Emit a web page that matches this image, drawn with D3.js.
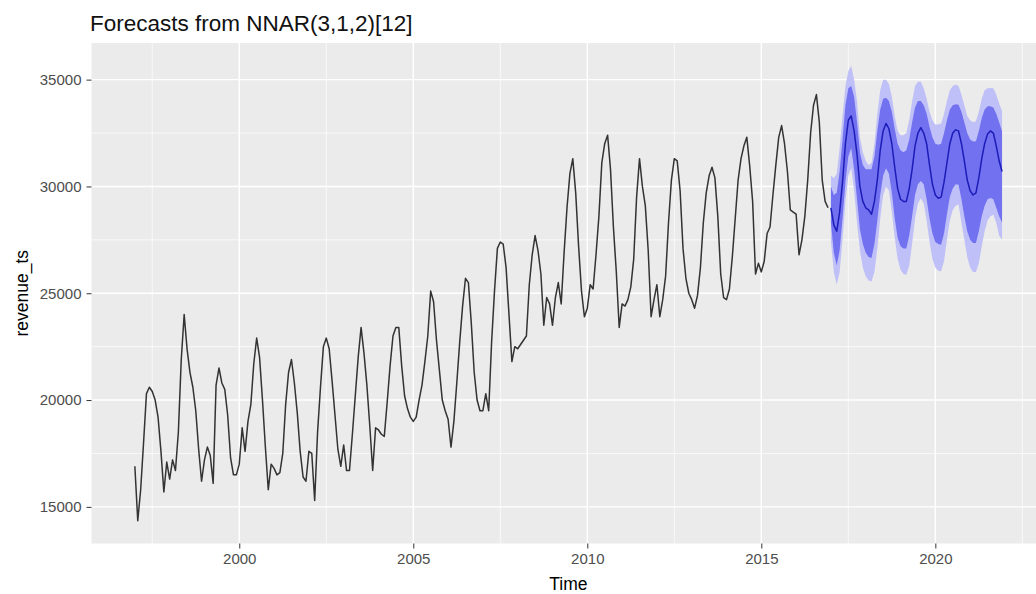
<!DOCTYPE html>
<html>
<head>
<meta charset="utf-8">
<script src="https://cdn.jsdelivr.net/npm/d3@7"></script>
<style>
  body { margin: 0; background: #fff; }
  text { font-family: "Liberation Sans", Arial, sans-serif; }
</style>
</head>
<body>
<div id="chart"></div>
<script>
  /* Monthly series, Jan 1997 - Dec 2016 */
  var startYear = 1997;
  var revenue = [
    16900, 14350, 15800, 18000, 20300, 20600, 20400, 20000, 19200, 17600, 15700, 17100,
    16300, 17200, 16700, 18500, 21900, 24000, 22400, 21300, 20600, 19500, 17700, 16200,
    17200, 17800, 17400, 16100, 20700, 21500, 20800, 20500, 19300, 17300, 16500, 16500,
    17000, 18700, 17600, 19000, 19800, 21700, 22900, 22000, 20000, 17800, 15800, 17000,
    16800, 16500, 16600, 17500, 19800, 21300, 21900, 20800, 19400, 17600, 16400, 16200,
    17600, 17500, 15300, 18500, 20600, 22500, 22900, 22400, 20900, 19300, 17700, 16900,
    17900, 16700, 16700, 18400, 20200, 22000, 23400, 22200, 20700, 18800, 16700, 18700,
    18600, 18400, 18300, 19900, 21600, 23000, 23400, 23400, 21600, 20200, 19600, 19200,
    19000, 19200, 20000, 20700, 21800, 23000, 25100, 24600, 22800, 21400, 20000, 19500,
    19100, 17800, 19000, 20800, 22700, 24400, 25700, 25500, 23600, 21300, 20000, 19500,
    19500, 20300, 19500, 22700, 25100, 27100, 27400, 27300, 26200, 24000, 21800, 22500,
    22400, 22600, 22800, 23000, 25400, 26800, 27700, 27000, 25900, 23500, 24800, 24500,
    23500, 24800, 25500, 24500, 26900, 29000, 30600, 31300, 29700, 27200, 25100, 23900,
    24300, 25400, 25200, 26800, 28600, 31100, 32000, 32400, 30800, 28100, 26000, 23400,
    24500, 24400, 24700, 25300, 26600, 29500, 31300, 30000, 29100, 27000, 23900, 24700,
    25400, 23900, 24700, 25800, 28300, 30300, 31300, 31200, 29800, 27100, 25700, 25000,
    24700, 24300, 24900, 26200, 28300, 29700, 30500, 30900, 30400, 28600, 25900, 24800,
    24700, 25200, 26700, 28500, 30300, 31300, 31900, 32300, 30950, 29300, 25900, 26400,
    26000, 26500, 27800, 28100, 29600, 31000, 32300, 32850, 32000, 30700, 28900, 28800,
    28700, 26800, 27500, 28600, 30300, 32500, 33800, 34300, 33000, 30300, 29300, 29000
  ];

  /* NNAR forecasts, Jan 2017 - Dec 2021 */
  var fcStart = 2017;
  var fcMean = [
    29000, 28200, 27900, 28800, 30200, 32000, 33100, 33300, 32600, 31500, 30000, 29300,
    29000, 28900, 28700, 29300, 30300, 31700, 32600, 32950, 32700, 32000, 30900, 29900,
    29400, 29300, 29300, 29900, 30800, 31900, 32500, 32750, 32500, 32000, 31000, 30100,
    29600, 29450, 29500, 30200, 31100, 32000, 32500, 32650, 32600, 32000, 31200, 30300,
    29800, 29600, 29700, 30400, 31300, 32000, 32450, 32600, 32500, 31900, 31200, 30700
  ];
  var fcHi80 = [
    30000, 29600, 29700, 30700, 32200, 33800, 34600, 34700, 34200, 33000, 31600, 31000,
    30800, 30800, 30800, 31400, 32600, 33600, 34100, 34150, 34000, 33500, 32700, 32000,
    31700, 31600, 31700, 32200, 33000, 33700, 34000, 34000, 33800, 33400, 32800, 32300,
    32000, 31950, 32000, 32500, 33100, 33600, 33800, 33850, 33830, 33500, 33000, 32500,
    32200, 32100, 32110, 32600, 33200, 33600, 33750, 33750, 33700, 33400, 33000, 32580
  ];
  var fcLo80 = [
    28300, 26900, 26300, 27000, 28500, 30200, 31400, 31800, 30800, 29400, 28000, 27300,
    26900, 26700, 26650, 27300, 28400, 29600, 30500, 30850, 30600, 29700, 28500, 27600,
    27200, 27100, 27100, 27700, 28600, 29600, 30100, 30250, 30100, 29400, 28500, 27800,
    27400, 27300, 27270, 27800, 28700, 29500, 29900, 30100, 30080, 29400, 28600, 27900,
    27500, 27350, 27350, 27900, 28600, 29100, 29400, 29460, 29400, 29000, 28600, 28300
  ];
  var fcHi95 = [
    30500, 30400, 30600, 31800, 33300, 34700, 35400, 35650, 35000, 34000, 32300, 31600,
    31200, 31000, 31100, 32000, 33400, 34500, 35000, 35000, 34800, 34200, 33300, 32600,
    32400, 32400, 32500, 33100, 34000, 34700, 34900, 34900, 34600, 34100, 33500, 33100,
    32900, 32900, 32950, 33400, 34000, 34500, 34700, 34770, 34700, 34300, 33800, 33300,
    33100, 33000, 33050, 33500, 34100, 34500, 34600, 34610, 34600, 34300, 33900, 33520
  ];
  var fcLo95 = [
    27400, 26000, 25400, 26000, 27500, 29300, 30500, 30860, 29800, 28300, 27000, 26200,
    25800, 25600, 25550, 26000, 27100, 28500, 29600, 30000, 29800, 28800, 27600, 26600,
    26100, 25900, 25870, 26300, 27300, 28500, 29200, 29450, 29200, 28400, 27400, 26600,
    26200, 26050, 26030, 26500, 27500, 28400, 28900, 29100, 29150, 28300, 27500, 26700,
    26200, 26000, 26000, 26400, 27200, 27900, 28400, 28600, 28680, 28300, 27700, 27500
  ];

  var xTicks = [2000, 2005, 2010, 2015, 2020];
  var yTicks = [15000, 20000, 25000, 30000, 35000];

  var width = 1036;
  var height = 594;
  var panel = {left: 91.5, top: 43, right: 1045.4, bottom: 543.5};

  var bg = "#EBEBEB";
  var col95 = "#C0C0F8";
  var col80 = "#7272F0";
  var colMean = "#1C1CB8";

  /* Format Data */
  var hist = revenue.map((v, i) => ({t: startYear + i / 12, v: v}));
  var fc = fcMean.map((v, i) => ({
    t: fcStart + i / 12, v: v,
    lo80: fcLo80[i], hi80: fcHi80[i], lo95: fcLo95[i], hi95: fcHi95[i]
  }));

  /* Scale (ggplot style 5% expansion) */
  var tExt = [hist[0].t, fc[fc.length - 1].t];
  var tPad = (tExt[1] - tExt[0]) * 0.05;
  var xScale = d3.scaleLinear()
    .domain([tExt[0] - tPad, tExt[1] + tPad])
    .range([panel.left, panel.right]);

  var vMin = d3.min([d3.min(revenue), d3.min(fcLo95)]);
  var vMax = d3.max([d3.max(revenue), d3.max(fcHi95)]);
  var vPad = (vMax - vMin) * 0.05;
  var yScale = d3.scaleLinear()
    .domain([vMin - vPad, vMax + vPad])
    .range([panel.bottom, panel.top]);

  /* Add SVG */
  var svg = d3.select("#chart").append("svg")
    .attr("width", width)
    .attr("height", height);

  svg.append("rect")
    .attr("width", width).attr("height", height)
    .attr("fill", "#fff");

  svg.append("rect")
    .attr("x", panel.left).attr("y", panel.top)
    .attr("width", panel.right - panel.left)
    .attr("height", panel.bottom - panel.top)
    .attr("fill", bg);

  /* Grid */
  var xMinor = xTicks.map(d => d - 2.5).concat([xTicks[xTicks.length - 1] + 2.5]);
  var yMinor = yTicks.slice(0, -1).map(d => d + 2500);

  var grid = svg.append("g").attr("class", "grid");
  grid.selectAll(".xminor").data(xMinor).enter().append("line")
    .attr("x1", d => xScale(d)).attr("x2", d => xScale(d))
    .attr("y1", panel.top).attr("y2", panel.bottom)
    .attr("stroke", "#fff").attr("stroke-width", 0.7);
  grid.selectAll(".yminor").data(yMinor).enter().append("line")
    .attr("y1", d => yScale(d)).attr("y2", d => yScale(d))
    .attr("x1", panel.left).attr("x2", panel.right)
    .attr("stroke", "#fff").attr("stroke-width", 0.7);
  grid.selectAll(".xmajor").data(xTicks).enter().append("line")
    .attr("x1", d => xScale(d)).attr("x2", d => xScale(d))
    .attr("y1", panel.top).attr("y2", panel.bottom)
    .attr("stroke", "#fff").attr("stroke-width", 1.4);
  grid.selectAll(".ymajor").data(yTicks).enter().append("line")
    .attr("y1", d => yScale(d)).attr("y2", d => yScale(d))
    .attr("x1", panel.left).attr("x2", panel.right)
    .attr("stroke", "#fff").attr("stroke-width", 1.4);

  /* Forecast intervals */
  var area95 = d3.area()
    .x(d => xScale(d.t))
    .y0(d => yScale(d.lo95))
    .y1(d => yScale(d.hi95));
  var area80 = d3.area()
    .x(d => xScale(d.t))
    .y0(d => yScale(d.lo80))
    .y1(d => yScale(d.hi80));

  svg.append("path")
    .datum(fc)
    .attr("d", area95)
    .attr("fill", col95);
  svg.append("path")
    .datum(fc)
    .attr("d", area80)
    .attr("fill", col80);

  /* Lines */
  var line = d3.line()
    .x(d => xScale(d.t))
    .y(d => yScale(d.v));

  svg.append("path")
    .datum(hist)
    .attr("d", line)
    .attr("fill", "none")
    .attr("stroke", "#333")
    .attr("stroke-width", 1.5)
    .attr("stroke-linejoin", "round");

  svg.append("path")
    .datum(fc)
    .attr("d", line)
    .attr("fill", "none")
    .attr("stroke", colMean)
    .attr("stroke-width", 1.5)
    .attr("stroke-linejoin", "round");

  /* Axes */
  var xAxis = d3.axisBottom(xScale).tickValues(xTicks).tickSize(5).tickPadding(5).tickFormat(d3.format("d"));
  var yAxis = d3.axisLeft(yScale).tickValues(yTicks).tickSize(5).tickPadding(5).tickFormat(d3.format("d"));

  var gx = svg.append("g")
    .attr("class", "x axis")
    .attr("transform", `translate(0, ${panel.bottom})`)
    .call(xAxis);
  var gy = svg.append("g")
    .attr("class", "y axis")
    .attr("transform", `translate(${panel.left}, 0)`)
    .call(yAxis);

  [gx, gy].forEach(function(g) {
    g.select(".domain").remove();
    g.selectAll(".tick line").attr("stroke", "#333").attr("stroke-width", 1);
    g.selectAll(".tick text")
      .attr("fill", "#4D4D4D")
      .style("font-size", "15px")
      .style("font-family", "Liberation Sans, Arial, sans-serif");
  });

  /* Titles */
  svg.append("text")
    .attr("x", 90)
    .attr("y", 31)
    .style("font-size", "22.5px")
    .attr("fill", "#111")
    .text("Forecasts from NNAR(3,1,2)[12]");

  svg.append("text")
    .attr("x", (panel.left + panel.right) / 2)
    .attr("y", 590)
    .attr("text-anchor", "middle")
    .style("font-size", "17.5px")
    .attr("fill", "#000")
    .text("Time");

  svg.append("text")
    .attr("transform", `translate(28, ${(panel.top + panel.bottom) / 2}) rotate(-90)`)
    .attr("text-anchor", "middle")
    .style("font-size", "17.5px")
    .attr("fill", "#000")
    .text("revenue_ts");
</script>
</body>
</html>
